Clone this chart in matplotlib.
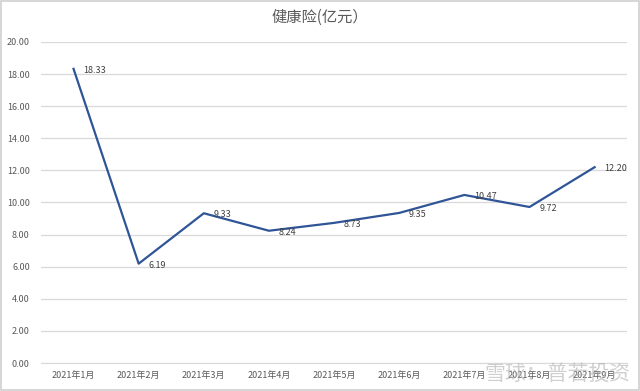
import matplotlib.pyplot as plt

plt.rcParams['font.family'] = ['Noto Sans CJK SC', 'DejaVu Sans']

months = ['2021年1月', '2021年2月', '2021年3月', '2021年4月', '2021年5月',
          '2021年6月', '2021年7月', '2021年8月', '2021年9月']
values = [18.33, 6.19, 9.33, 8.24, 8.73, 9.35, 10.47, 9.72, 12.20]
yticks = [0, 2, 4, 6, 8, 10, 12, 14, 16, 18, 20]

fig = plt.figure(figsize=(6.4, 3.91), dpi=100)
ax = fig.add_axes([0.064, 0.0716, 0.916, 0.821])

x = list(range(len(months)))
ax.plot(x, values, color='#2F5597', linewidth=1.6, zorder=3)

for xi, v in zip(x, values):
    ax.annotate(f'{v:.2f}', (xi, v), xytext=(7, -1), textcoords='offset points',
                ha='left', va='center', fontsize=6.5, color='#404040')

ax.set_xlim(-0.5, len(months) - 0.5)
ax.set_ylim(0, 20)
ax.set_yticks(yticks)
ax.set_yticklabels([f'{t:.2f}' for t in yticks])
ax.set_xticks(x)
ax.set_xticklabels(months)
ax.tick_params(axis='both', length=0, labelsize=6.5, labelcolor='#595959')
ax.tick_params(axis='y', pad=8)
ax.tick_params(axis='x', pad=6)

ax.grid(axis='y', color='#d9d9d9', linewidth=0.9)
ax.set_axisbelow(True)
for side in ['top', 'right', 'left']:
    ax.spines[side].set_visible(False)
ax.spines['bottom'].set_color('#d9d9d9')

fig.text(0.5, 0.955, '健康险(亿元）', ha='center', va='center',
         fontsize=11, color='#595959')

# watermark
fig.text(0.985, 0.045, '雪球：普若投资', ha='right', va='center',
         fontsize=15, color='#b0b0b0', alpha=0.6)

# light frame around the picture
fig.patches.append(plt.Rectangle((0.002, 0.003), 0.996, 0.994, transform=fig.transFigure,
                                 fill=False, edgecolor='#d0d0d0', linewidth=1.2))

fig.savefig('out.png', dpi=100)
